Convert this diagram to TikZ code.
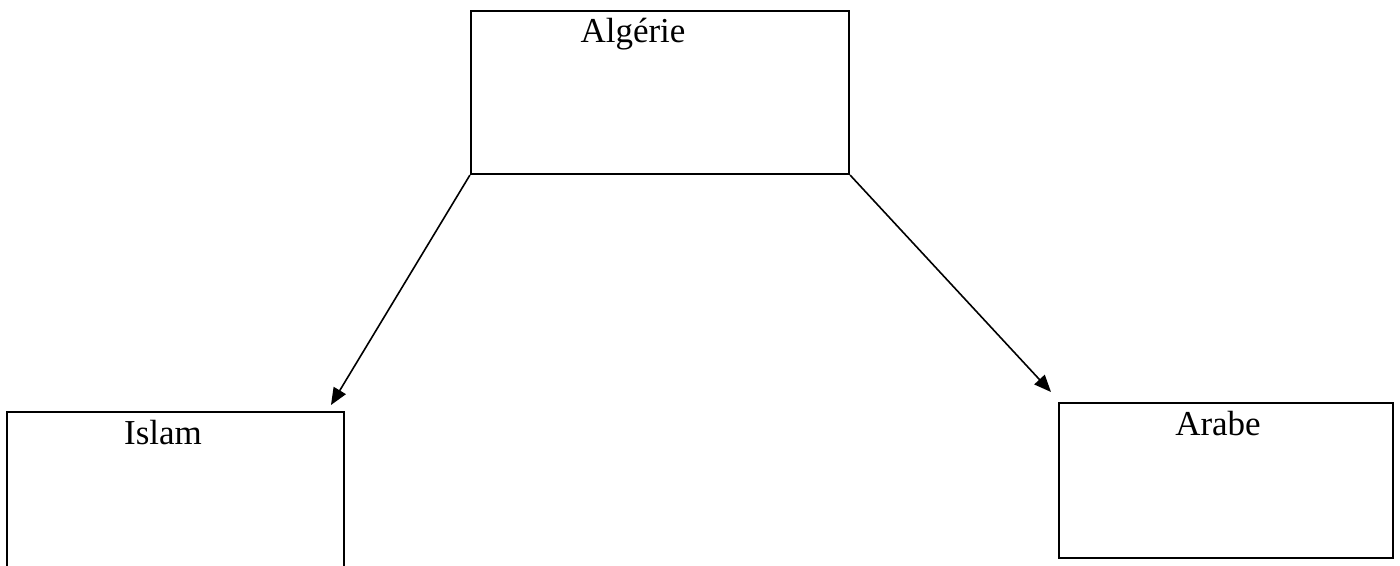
\documentclass[tikz,border=0pt]{standalone}
\usepackage{fontspec}
\setmainfont{Liberation Serif}
\usetikzlibrary{arrows.meta}
\begin{document}
\begin{tikzpicture}[x=0.5pt,y=-0.5pt,
  box/.style={draw, line width=1.1pt, rectangle, inner sep=0pt},
  lbl/.style={font=\fontsize{17.5}{20}\selectfont, anchor=base, inner sep=0pt},
  arr/.style={-{Triangle[length=8.5pt,width=7pt]}, line width=0.8pt}]
\useasboundingbox (0,0) rectangle (1400,566);
\clip (0,0) rectangle (1400,566);
\node[box, minimum width=189pt, minimum height=81.5pt] (alg) at (660,92.5) {};
\node[box, minimum width=168.5pt, minimum height=94pt] (isl) at (175.5,506) {};
\node[box, minimum width=167pt, minimum height=77.5pt] (ara) at (1226,480.5) {};
\node[lbl] (talg) at (633,43) {Algérie};
\node[lbl] (tisl) at (163,444) {Islam};
\node[lbl] (tara) at (1218,435) {Arabe};
\coordinate (t1) at (331,405);
\coordinate (t2) at (1051,392);
\draw[arr] (alg.south west) -- (t1);
\draw[arr] (alg.south east) -- (t2);
\end{tikzpicture}
\end{document}
